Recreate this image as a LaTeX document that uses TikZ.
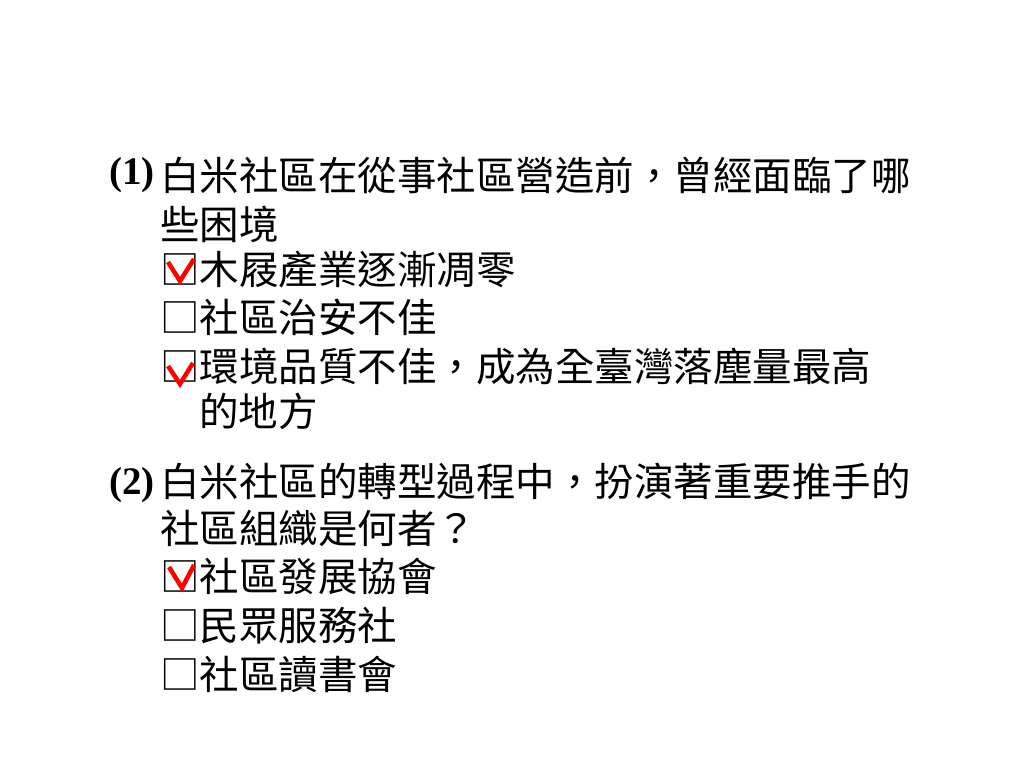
\documentclass[tikz,border=0pt]{standalone}
\usepackage{fontspec}
\newfontfamily\cjk{Noto Sans CJK TC}
\setmainfont{Liberation Serif}
\begin{document}
\begin{tikzpicture}[x=1pt,y=-1pt,
  cjkline/.style={anchor=base west,inner sep=0pt,font=\cjk\fontsize{39.5}{40}\selectfont},
  numlbl/.style={anchor=base west,inner sep=0pt,font=\bfseries\fontsize{39}{40}\selectfont},
  tick/.style={draw=red,line width=4.5pt,line join=miter,line cap=butt}]
\useasboundingbox[fill=white] (0,0) rectangle (1024,768);
% question 1
\node[numlbl] (n1) at (109,184) {(1)};
\node[cjkline] (q1a) at (160,190) {白米社區在從事社區營造前，曾經面臨了哪};
\node[cjkline] (q1b) at (160,239) {些困境};
\node[cjkline] (o1a) at (160,284) {□木屐產業逐漸凋零};
\node[cjkline] (o1b) at (160,332) {□社區治安不佳};
\node[cjkline] (o1c) at (160,381) {□環境品質不佳，成為全臺灣落塵量最高};
\node[cjkline] (o1d) at (199,426) {的地方};
% question 2
\node[numlbl] (n2) at (109,494) {(2)};
\node[cjkline] (q2a) at (160,496) {白米社區的轉型過程中，扮演著重要推手的};
\node[cjkline] (q2b) at (160,543) {社區組織是何者？};
\node[cjkline] (o2a) at (160,591) {□社區發展協會};
\node[cjkline] (o2b) at (160,640) {□民眾服務社};
\node[cjkline] (o2c) at (160,689) {□社區讀書會};
% red ticks
\draw[tick] (168,262) -- (180,281) -- (194,259);
\draw[tick] (168,366) -- (180,384) -- (193,363);
\draw[tick] (169,567) -- (182,588) -- (194,565);
\end{tikzpicture}
\end{document}
